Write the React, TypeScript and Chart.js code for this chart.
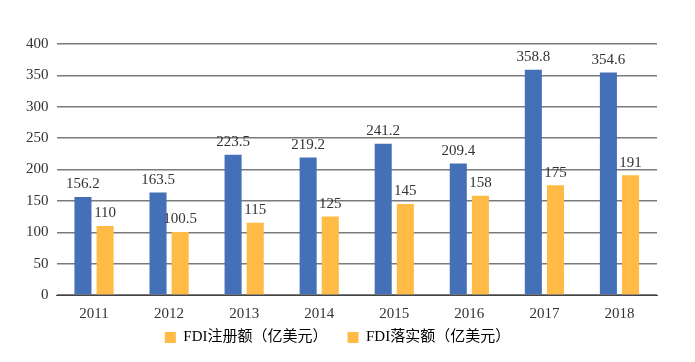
import React, { useEffect, useRef } from "react";
import { Chart, registerables } from "chart.js";

Chart.register(...registerables);

const years = ["2011", "2012", "2013", "2014", "2015", "2016", "2017", "2018"];
const registered = [156.2, 163.5, 223.5, 219.2, 241.2, 209.4, 358.8, 354.6];
const actual = [110, 100.5, 115, 125, 145, 158, 175, 191];
const registeredLabels = ["156.2", "163.5", "223.5", "219.2", "241.2", "209.4", "358.8", "354.6"];
const actualLabels = ["110", "100.5", "115", "125", "145", "158", "175", "191"];
const seriesNames = ["FDI注册额（亿美元）", "FDI落实额（亿美元）"];

const BLUE = "#4470B8";
const YELLOW = "#FFBB45";
const FONT = "'Liberation Serif', 'Noto Sans CJK SC', serif";

const valueLabelPlugin = {
  id: "valueLabels",
  afterDatasetsDraw(chart: any) {
    const ctx = chart.ctx;
    const labelSets = [registeredLabels, actualLabels];
    ctx.save();
    ctx.font = "15px " + FONT;
    ctx.fillStyle = "#333333";
    ctx.textAlign = "center";
    ctx.textBaseline = "bottom";
    chart.data.datasets.forEach((_: any, di: number) => {
      const meta = chart.getDatasetMeta(di);
      meta.data.forEach((bar: any, i: number) => {
        ctx.fillText(labelSets[di][i], bar.x, bar.y - 5);
      });
    });
    ctx.restore();
  },
};

export default function App() {
  const ref = useRef<HTMLCanvasElement>(null);
  useEffect(() => {
    document.body.style.margin = "0";
    const chart = new Chart(ref.current!, {
      type: "bar",
      data: {
        labels: years,
        datasets: [
          { label: seriesNames[0], data: registered, backgroundColor: BLUE, categoryPercentage: 0.59, barPercentage: 0.77 },
          { label: seriesNames[1], data: actual, backgroundColor: YELLOW, categoryPercentage: 0.59, barPercentage: 0.77 },
        ],
      },
      options: {
        animation: false,
        responsive: false,
        maintainAspectRatio: false,
        layout: { padding: { top: 44, right: 38, left: 18, bottom: 7 } },
        plugins: {
          tooltip: { enabled: false },
          legend: {
            position: "bottom",
            labels: {
              font: { size: 15, family: FONT },
              color: "#333333",
              boxWidth: 11,
              boxHeight: 11,
              padding: 5,
              generateLabels: (c: any) =>
                c.data.datasets.map((d: any, i: number) => ({
                  text: i === 0 ? d.label + "    " : d.label,
                  fillStyle: YELLOW,
                  strokeStyle: YELLOW,
                  lineWidth: 0,
                  datasetIndex: i,
                  hidden: false,
                })),
            },
          },
        },
        scales: {
          x: {
            grid: { display: false },
            border: { color: "#444444", width: 1 },
            ticks: { font: { size: 15, family: FONT }, color: "#333333", padding: 2 },
          },
          y: {
            min: 0,
            max: 400,
            ticks: { stepSize: 50, font: { size: 15, family: FONT }, color: "#333333", padding: 8 },
            grid: { color: "#7a7a7a", lineWidth: 1.5, drawTicks: false },
            border: { display: false },
          },
        },
      },
      plugins: [valueLabelPlugin],
    });
    return () => chart.destroy();
  }, []);
  return <canvas ref={ref} width={695} height={362} style={{ display: "block" }} />;
}
